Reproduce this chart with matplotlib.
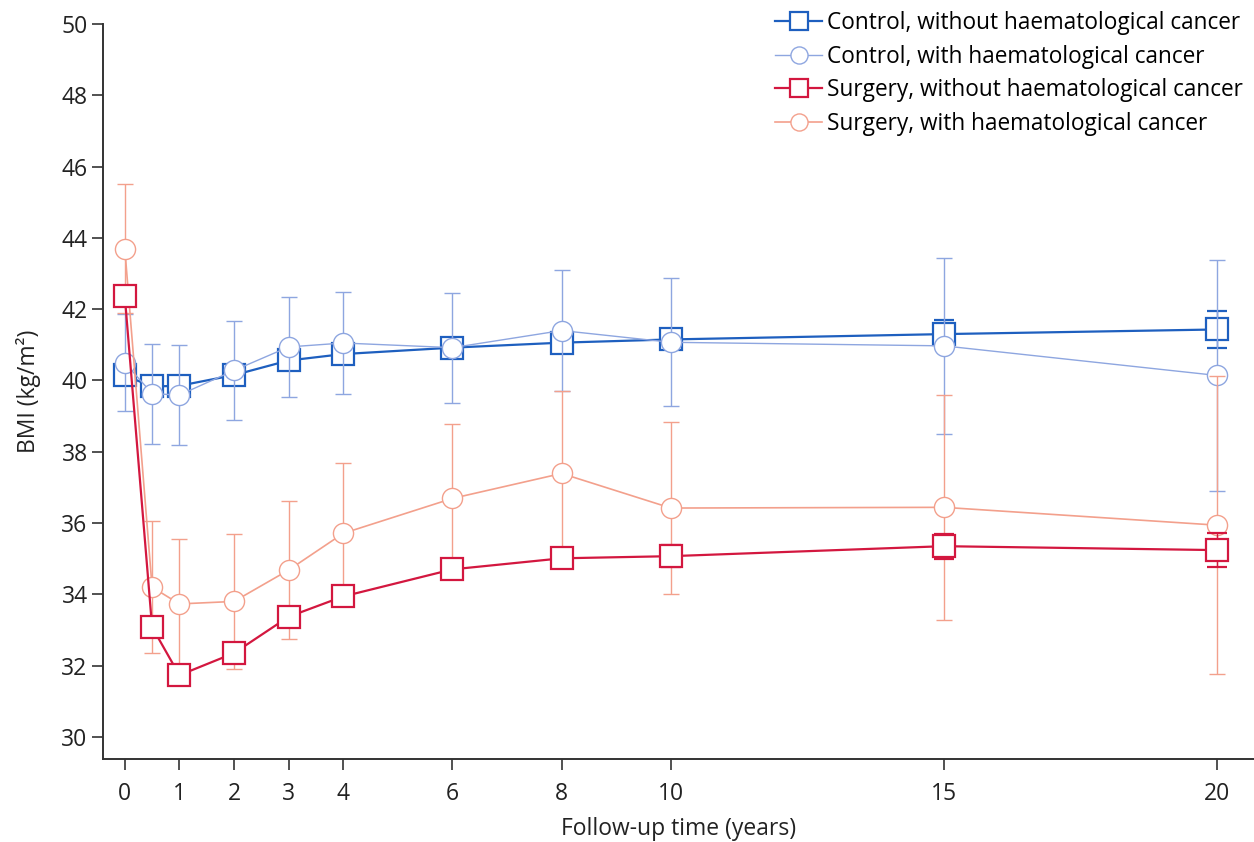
import matplotlib
matplotlib.use("Agg")
import matplotlib.pyplot as plt

plt.rcParams["font.family"] = ["Open Sans", "DejaVu Sans"]

# ── data ─────────────────────────────────────────────────────────────────────
years = [0, 0.5, 1, 2, 3, 4, 6, 8, 10, 15, 20]
tick_years = [0, 1, 2, 3, 4, 6, 8, 10, 15, 20]

ctrl_no  = [40.14, 39.83, 39.85, 40.15, 40.56, 40.74, 40.92, 41.06, 41.15, 41.30, 41.43]
ctrl_no_err = [0.2, 0.2, 0.2, 0.2, 0.2, 0.2, 0.2, 0.25, 0.25, 0.4, 0.52]

ctrl_ca  = [40.50, 39.63, 39.59, 40.28, 40.94, 41.05, 40.92, 41.40, 41.07, 40.97, 40.14]
ctrl_ca_err = [1.36, 1.40, 1.41, 1.40, 1.41, 1.43, 1.54, 1.70, 1.80, 2.46, 3.25]

surg_no  = [42.36, 33.08, 31.73, 32.35, 33.37, 33.94, 34.70, 35.01, 35.07, 35.35, 35.24]
surg_no_err = [0.25, 0.25, 0.2, 0.2, 0.25, 0.25, 0.25, 0.25, 0.3, 0.35, 0.47]

surg_ca  = [43.70, 34.20, 33.73, 33.80, 34.68, 35.71, 36.69, 37.39, 36.42, 36.44, 35.94]
surg_ca_err = [1.80, 1.85, 1.82, 1.89, 1.93, 1.96, 2.08, 2.30, 2.40, 3.16, 4.18]

lbl_ctrl_no = "Control, without haematological cancer"
lbl_ctrl_ca = "Control, with haematological cancer"
lbl_surg_no = "Surgery, without haematological cancer"
lbl_surg_ca = "Surgery, with haematological cancer"

C_CTRL_NO = "#1e5fbf"
C_CTRL_CA = "#8ea6e0"
C_SURG_NO = "#d3173f"
C_SURG_CA = "#f3a08c"

fig = plt.figure(figsize=(12.54, 8.42), dpi=100)
ax = fig.add_axes([0.0821, 0.0986, 0.9179, 0.8729])

# (label, values, errors, colour, marker, size, line width, edge width, capsize, z)
# drawing order bottom → top
series = [
    (lbl_ctrl_no, ctrl_no, ctrl_no_err, C_CTRL_NO, "s", 16, 1.6, 1.6, 7, 3),
    (lbl_ctrl_ca, ctrl_ca, ctrl_ca_err, C_CTRL_CA, "o", 14.5, 1.0, 1.0, 6, 4),
    (lbl_surg_ca, surg_ca, surg_ca_err, C_SURG_CA, "o", 14.5, 1.2, 1.0, 6, 5),
    (lbl_surg_no, surg_no, surg_no_err, C_SURG_NO, "s", 16, 1.6, 1.6, 7, 6),
]

handles = {}
for lbl, vals, errs, col, mk, ms, lw, mew, cs, z in series:
    eb = ax.errorbar(years, vals, yerr=errs, color=col, ecolor=col,
                     elinewidth=1.0, capsize=cs, capthick=1.0,
                     marker=mk, markersize=ms, markerfacecolor="white",
                     markeredgecolor=col, markeredgewidth=mew,
                     linewidth=lw, zorder=z)
    handles[lbl] = eb.lines[0]

ax.set_xlim(-0.40, 20.68)
ax.set_ylim(29.38, 50)
ax.set_xticks(tick_years)
ax.set_yticks(range(30, 51, 2))

for side in ("top", "right"):
    ax.spines[side].set_visible(False)
for side in ("left", "bottom"):
    ax.spines[side].set_color("#333333")
    ax.spines[side].set_linewidth(1.4)

ax.tick_params(direction="out", length=8, width=1.2, color="#333333",
               labelsize=16.5, labelcolor="#222222", pad=3)
ax.tick_params(axis="x", pad=8.5)

ax.set_ylabel("BMI (kg/m²)", fontsize=16.5, color="#222222", labelpad=15)
ax.set_xlabel("Follow-up time (years)", fontsize=16.5, color="#222222", labelpad=8)

legend_order = [lbl_ctrl_no, lbl_ctrl_ca, lbl_surg_no, lbl_surg_ca]
fig.legend([handles[l] for l in legend_order], legend_order,
           loc="upper right", bbox_to_anchor=(1.0, 1.0),
           frameon=False, fontsize=16.3, handlelength=2.1,
           handletextpad=0.2, labelspacing=0.42, borderaxespad=0.1,
           markerscale=0.85)

fig.savefig("out.png", dpi=100, facecolor="white")
